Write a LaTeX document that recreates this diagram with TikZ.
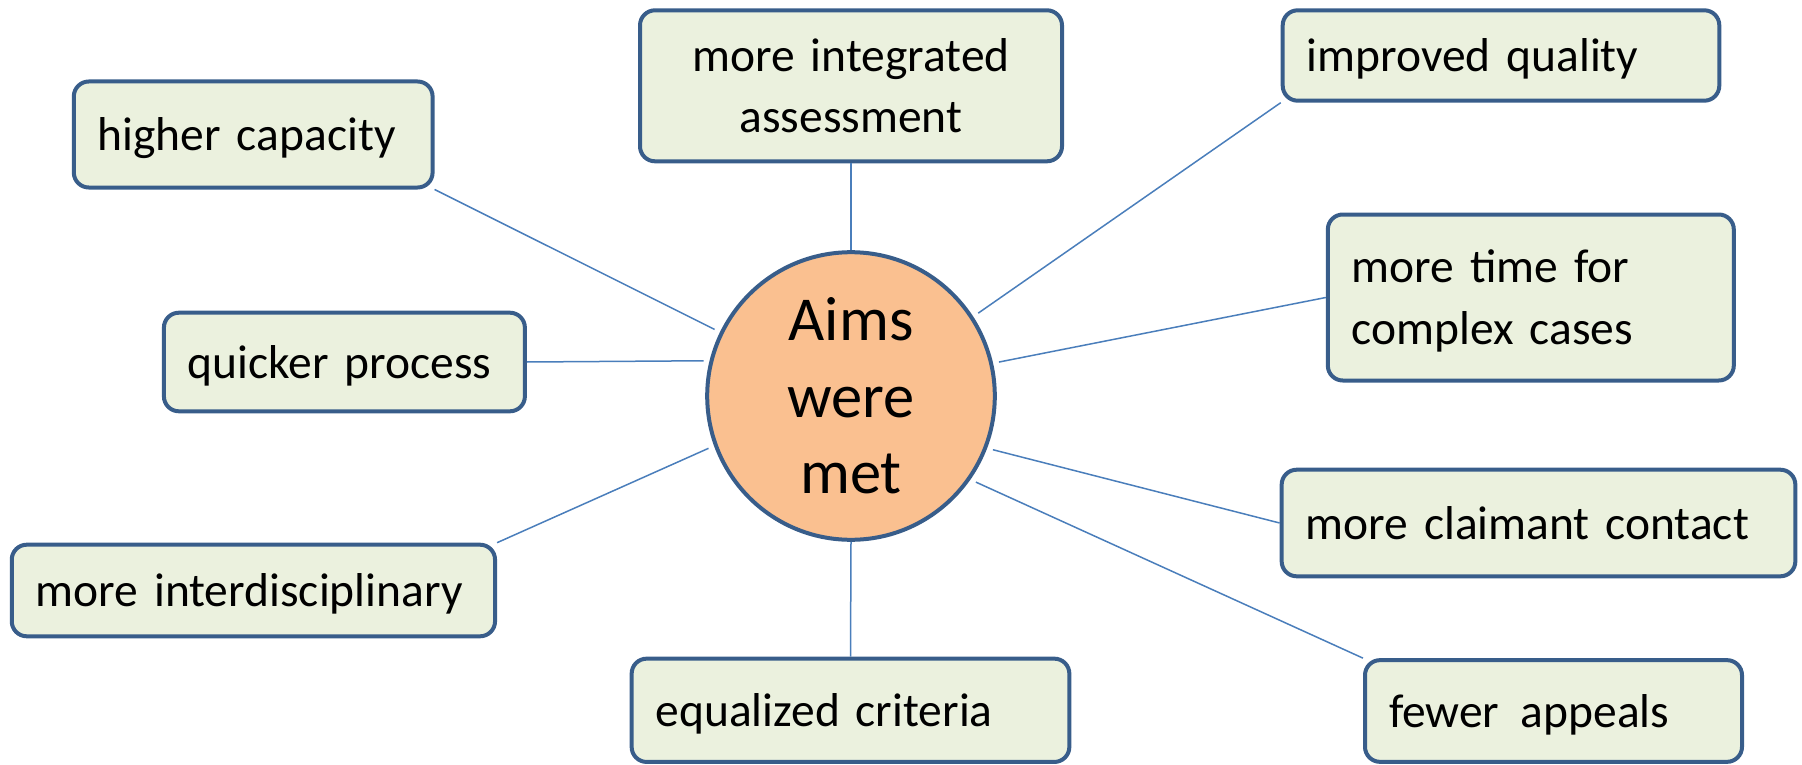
\documentclass[tikz,border=0pt]{standalone}
\usepackage{fontspec}
\setmainfont{Carlito}[WordSpace=0.8]
\definecolor{boxfill}{RGB}{235,241,222}
\definecolor{boxline}{RGB}{56,93,138}
\definecolor{circfill}{RGB}{250,192,144}
\definecolor{linkc}{RGB}{74,126,187}
\newcommand{\boxstrut}{\rule[-0.3em]{0pt}{1.274em}}
\begin{document}
\begin{tikzpicture}[x=1pt,y=-1pt,
  box/.style={draw=boxline, fill=boxfill, line width=4pt, rounded corners=15pt,
    inner xsep=24pt, inner ysep=0pt, align=left,
    font=\fontsize{47.5}{57.5}\selectfont,
    execute at begin node=\boxstrut, execute at end node=\boxstrut},
  hub/.style={circle, draw=boxline, fill=circfill, line width=4pt,
    minimum size=287.6pt, inner sep=0pt, align=center,
    font=\fontsize{62.5}{76.5}\selectfont},
  conn/.style={draw=linkc, line width=1.5pt, shorten >=6pt}]
\useasboundingbox (0,0) rectangle (1802,765);

\node[hub] (c) at (851,396) {Aims\\were\\met};

\node[box, text width=310.8pt, minimum height=106pt] (hc) at (253.2,134.5) {higher capacity};
\node[box, text width=374pt, minimum height=151pt, align=center] (ia) at (851,85.8) {more integrated\\assessment};
\node[box, text width=388.6pt, minimum height=90.4pt] (iq) at (1501,55.5) {improved quality};
\node[box, text width=358pt, minimum height=166pt] (mt) at (1530.8,297.5) {more time for\\complex cases};
\node[box, text width=313pt, minimum height=98.6pt] (qp) at (344.4,362) {quicker process};
\node[box, text width=465.7pt, minimum height=106.6pt] (cc) at (1538.5,523) {more claimant contact};
\node[box, text width=435.3pt, minimum height=91.6pt] (id) at (253.4,590.5) {more interdisciplinary};
\node[box, text width=389.7pt, minimum height=103.3pt] (ec) at (850.5,710.3) {equalized criteria};
\node[box, text width=329pt, minimum height=101.7pt] (fa) at (1553.5,711) {fewer\hspace{0.45em}appeals};

\draw[conn] (hc.south east) -- (c.154.7);
\draw[conn, shorten >=0pt] (ia.south) -- (c.north);
\draw[conn] (iq.south west) -- (c.33);
\draw[conn] (mt.west) -- (c.13.7);
\draw[conn] (qp.east) -- (c.166.6);
\draw[conn] (id.north east) -- (c.200.8);
\draw[conn, shorten >=0pt] (ec.north) -- (c.south);
\draw[conn] (cc.west) -- (c.339.8);
\draw[conn] (fa.north west) -- (c.325);
\end{tikzpicture}
\end{document}
